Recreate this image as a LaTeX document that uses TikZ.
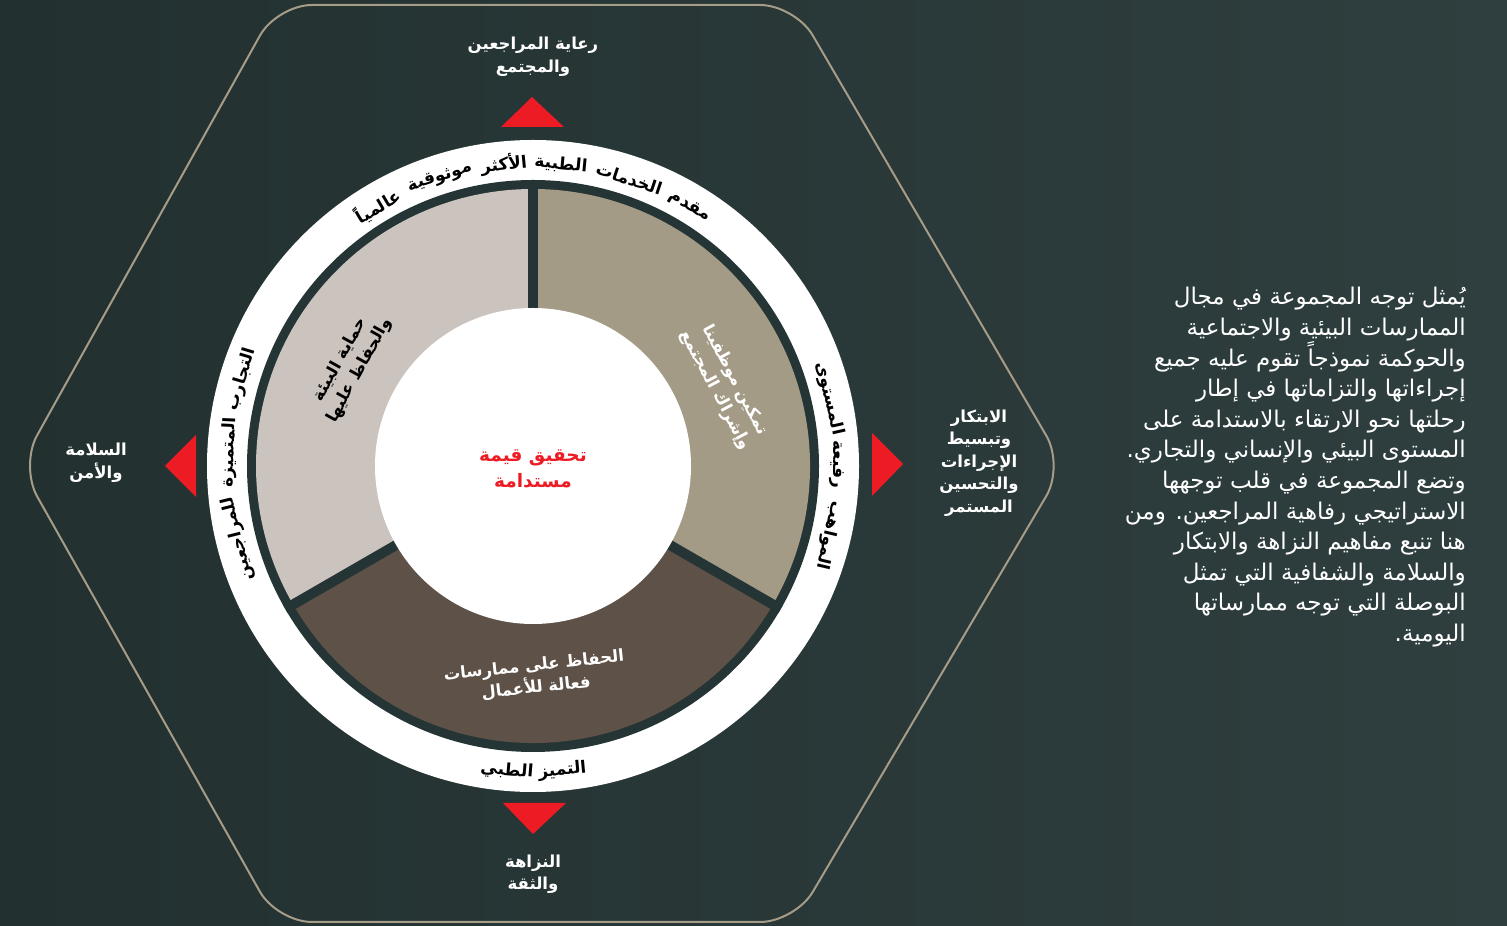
\documentclass[tikz,border=0pt]{standalone}
\usepackage{fontspec}
\TeXXeTstate=1
\newfontfamily\arf[Script=Arabic]{DejaVu Sans}
\usetikzlibrary{calc}
\definecolor{bgL}{HTML}{223030}
\definecolor{bgR}{HTML}{2F3E3E}
\definecolor{ringdark}{HTML}{253535}
\definecolor{segTL}{HTML}{CBC3BD}
\definecolor{segTR}{HTML}{A39B86}
\definecolor{segB}{HTML}{5E5148}
\definecolor{redc}{HTML}{ED1C24}
\definecolor{hexc}{HTML}{A69D88}
\newcommand\ringfont{\arf\bfseries\fontsize{17}{19}\selectfont}
\tikzset{
  lab/.style={text=white, font=\arf\bfseries\fontsize{16.5}{22.5}\selectfont, align=center, inner sep=0},
  ringtxt/.style={text=black, font=\ringfont, inner sep=0},
  segtxt/.style={font=\arf\bfseries\fontsize{16.5}{22}\selectfont, align=center, inner sep=0},
  tri/.style={fill=redc},
  para/.style={text=white, font=\arf\fontsize{23}{30.6}\selectfont, align=right, inner sep=0}
}
% #1 name, #2 angle, #3 radius, #4 rotation, #5 word
\newcommand\rw[5]{\path (C) ++(#2:#3) node[ringtxt, rotate=#4] (#1) {\beginR #5\endR};}
\begin{document}
\begin{tikzpicture}[x=1pt,y=1pt]
\useasboundingbox (0,0) rectangle (1507,926);
\fill[left color=bgL, right color=bgR] (0,0) rectangle (1507,926);
\coordinate (C) at (533,460);
% hexagon
\draw[hexc, line width=2, rounded corners=35] (20,460) -- (277,921) -- (795,921) -- (1064,460) -- (795,4) -- (277,4) -- cycle;
% rings
\fill[white] (C) circle (326);
\fill[ringdark] (C) circle (286);
\fill[segTR] (C) -- ++(-30:277) arc (-30:90:277) -- cycle;
\fill[segTL] (C) -- ++(90:277) arc (90:210:277) -- cycle;
\fill[segB] (C) -- ++(210:277) arc (210:330:277) -- cycle;
\coordinate (d1) at ($(C)+(90:286)$);
\coordinate (d2) at ($(C)+(210:286)$);
\coordinate (d3) at ($(C)+(330:286)$);
\draw[ringdark, line width=10] (C) -- (d1);
\draw[ringdark, line width=10] (C) -- (d2);
\draw[ringdark, line width=10] (C) -- (d3);
\fill[white] (C) circle (158);
% triangles
\fill[tri] (532,829) -- (501,799) -- (564,799) -- cycle;
\fill[tri] (533,92) -- (503,123) -- (566,123) -- cycle;
\fill[tri] (165,460) -- (196,491) -- (196,429) -- cycle;
\fill[tri] (903,462) -- (872,493) -- (872,430) -- cycle;
% outer labels
\node[lab] (ltop) at (533,869) {\beginR رعاية المراجعين\endR\\\beginR والمجتمع\endR};
\node[lab] (lleft) at (96,463) {\beginR السلامة\endR\\\beginR والأمن\endR};
\node[lab] (lright) at (979,463) {\beginR الابتكار\endR\\\beginR وتبسيط\endR\\\beginR الإجراءات\endR\\\beginR والتحسين\endR\\\beginR المستمر\endR};
\node[lab] (lbot) at (533,52) {\beginR النزاهة\endR\\\beginR والثقة\endR};
% ring texts
\rw{t1}{58.9}{303}{-31.1}{مقدم}
\rw{t2}{71.5}{303}{-18.5}{الخدمات}
\rw{t3}{84.7}{303}{-5.3}{الطبية}
\rw{t4}{95.5}{303}{5.5}{الأكثر}
\rw{t5}{107.9}{303}{17.9}{موثوقية}
\rw{t6}{120.8}{303}{30.8}{عالمياً}
\rw{l1}{163.4}{304}{73.4}{التجارب}
\rw{l2}{177.4}{304}{87.4}{المتميزة}
\rw{l3}{193.9}{304}{103.9}{للمراجعين}
\rw{r1}{-13.2}{304}{-103.2}{المواهب}
\rw{r2}{0.3}{304}{-89.7}{رفيعة}
\rw{r3}{12.8}{304}{-77.2}{المستوى}
\rw{b1}{275.5}{306}{5.5}{التميز}
\rw{b2}{265.1}{306}{-4.9}{الطبي}
% segment texts
\node[segtxt, text=black, rotate=61] (sTL) at (350,561) {\beginR حماية البيئة\endR\\\beginR والحفاظ عليها\endR};
\node[segtxt, text=white, rotate=-62] (sTR) at (725,541) {\beginR تمكين موظفينا\endR\\\beginR وإشراك المجتمع\endR};
\node[segtxt, text=white, rotate=6] (sB) at (535,249) {\beginR الحفاظ على ممارسات\endR\\\beginR فعالة للأعمال\endR};
% centre
\node[lab, text=redc, font=\arf\bfseries\fontsize{18.5}{26}\selectfont] (ctr) at (533,457) {\beginR تحقيق قيمة\endR\\\beginR مستدامة\endR};
% paragraph
\node[para, anchor=east] (par) at (1466,459) {%
\beginR يُمثل توجه المجموعة في مجال\endR\\
\beginR الممارسات البيئية والاجتماعية\endR\\
\beginR والحوكمة نموذجاً تقوم عليه جميع\endR\\
\beginR إجراءاتها والتزاماتها في إطار\endR\\
\beginR رحلتها نحو الارتقاء بالاستدامة على\endR\\
\beginR المستوى البيئي والإنساني والتجاري.\endR\\
\beginR وتضع المجموعة في قلب توجهها\endR\\
\beginR الاستراتيجي رفاهية المراجعين. ومن\endR\\
\beginR هنا تنبع مفاهيم النزاهة والابتكار\endR\\
\beginR والسلامة والشفافية التي تمثل\endR\\
\beginR البوصلة التي توجه ممارساتها\endR\\
\beginR اليومية.\endR};
\end{tikzpicture}
\end{document}
